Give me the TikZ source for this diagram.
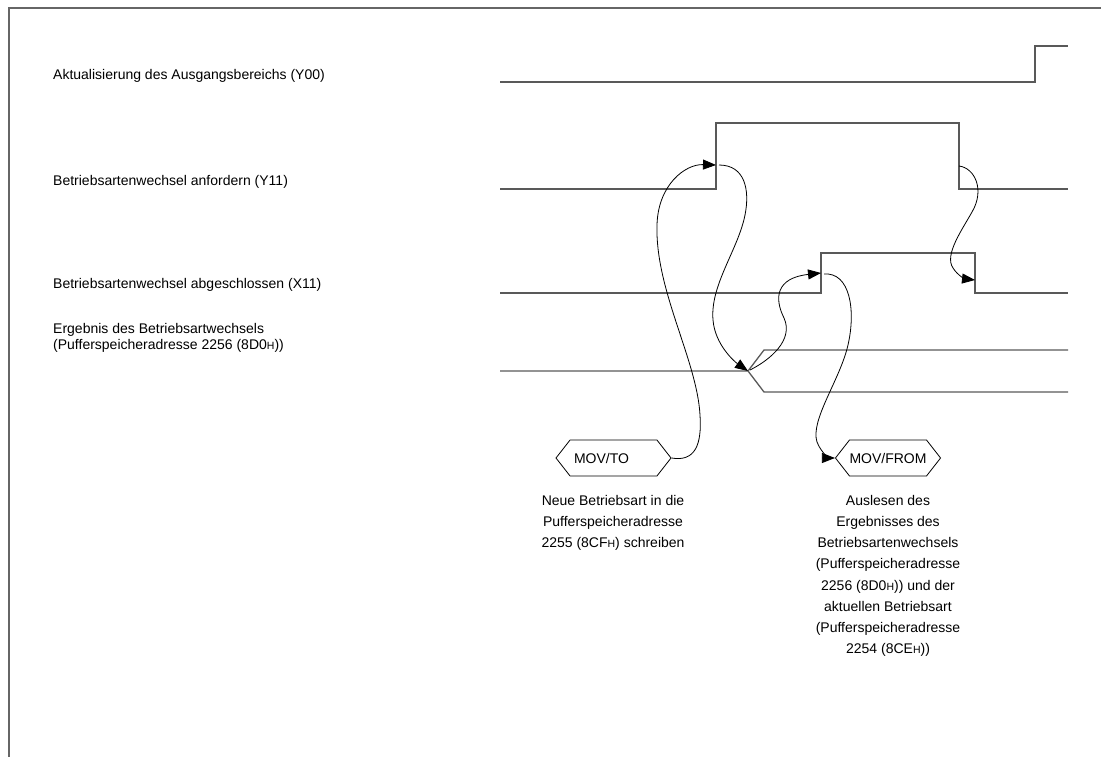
\documentclass[tikz,border=0pt]{standalone}
\usepackage{fontspec}
\setmainfont{Liberation Sans}
\usetikzlibrary{arrows.meta,shapes.symbols}
\newcommand\hx{{\fontsize{10.5}{10.5}\selectfont H}}
\tikzset{
  lbl/.style={anchor=west,inner sep=0pt,font=\fontsize{14}{16}\selectfont},
  sig/.style={draw=black!65,line width=1.3pt},
  frm/.style={draw=black!60,line width=1.4pt},
  cur/.style={draw=black,line width=0.8pt,-{Triangle[length=13pt,width=10pt]}},
  hexbox/.style={draw=black,line width=0.8pt,shape=signal,signal to=west and east,
     signal pointer angle=104,minimum height=36pt,inner sep=0pt,
     font=\fontsize{14}{16}\selectfont},
  desc/.style={align=center,anchor=north,inner sep=0pt,font=\fontsize{14}{21.2}\selectfont}
}
\begin{document}
\begin{tikzpicture}[x=1pt,y=-1pt]
\useasboundingbox (0,0) rectangle (1101,757);
% frame
\draw[frm] (9,757) -- (9,8) -- (1101,8);
% labels
\node[lbl] (l1) at (53,76) {Aktualisierung des Ausgangsbereichs (Y00)};
\node[lbl] (l2) at (53,182) {Betriebsartenwechsel anfordern (Y11)};
\node[lbl] (l3) at (53,285) {Betriebsartenwechsel abgeschlossen (X11)};
\node[lbl,align=left] (l4) at (53,338) {Ergebnis des Betriebsartwechsels\\(Pufferspeicheradresse 2256 (8D0\hx))};
% key coordinates
\coordinate (y11r) at (716,165);
\coordinate (y11rs) at (719,165);
\coordinate (y11f) at (959,166);
\coordinate (x11r) at (821,273);
\coordinate (x11rs) at (824,274);
\coordinate (x11f) at (975,280);
\coordinate (cross) at (748,371);
\coordinate (crosss) at (750,370);
% signals
\draw[sig] (500,82) -- (1035,82) -- (1035,46) -- (1068,46);
\draw[sig] (500,189) -- (716,189) -- (716,123) -- (959,123) -- (959,189) -- (1068,189);
\draw[sig] (500,293) -- (821,293) -- (821,253) -- (975,253) -- (975,293) -- (1068,293);
\draw[sig] (500,371) -- (748,371) -- (764,350) -- (1068,350);
\draw[sig] (748,371) -- (764,392) -- (1068,392);
% hexagons
\node[hexbox,minimum width=115pt] (mto) at (613.5,458) {MOV/TO\hspace*{24pt}};
\node[hexbox,minimum width=92pt] (mfrom) at (888,458) {MOV/FROM};
% descriptions
\node[desc] (dto) at (613,495) {Neue Betriebsart in die\\Pufferspeicheradresse\\2255 (8CF\hx) schreiben};
\node[desc] (dfrom) at (888,495) {Auslesen des\\Ergebnisses des\\Betriebsartenwechsels\\(Pufferspeicheradresse\\2256 (8D0\hx)) und der\\aktuellen Betriebsart\\(Pufferspeicheradresse\\2254 (8CE\hx))};
% curves
\draw[cur] (mto.east) .. controls (695,462) and (702,445) .. (700,415)
   .. controls (697,360) and (655,290) .. (657,225)
   .. controls (658,185) and (685,164) .. (y11r);
\draw[cur] (y11rs) .. controls (745,165) and (750,190) .. (745,215)
   .. controls (738,250) and (710,285) .. (713,320)
   .. controls (715,345) and (735,362) .. (cross);
\draw[cur] (crosss) .. controls (770,360) and (794,340) .. (784,318)
   .. controls (774,298) and (776,278) .. (x11r);
\draw[cur] (x11rs) .. controls (850,272) and (856,310) .. (848,345)
   .. controls (840,380) and (810,420) .. (817,442)
   .. controls (822,455) and (832,458) .. (mfrom.west);
\draw[cur] (y11f) .. controls (975,168) and (985,190) .. (972,212)
   .. controls (962,230) and (944,255) .. (953,268)
   .. controls (958,276) and (966,279) .. (x11f);
\end{tikzpicture}
\end{document}
